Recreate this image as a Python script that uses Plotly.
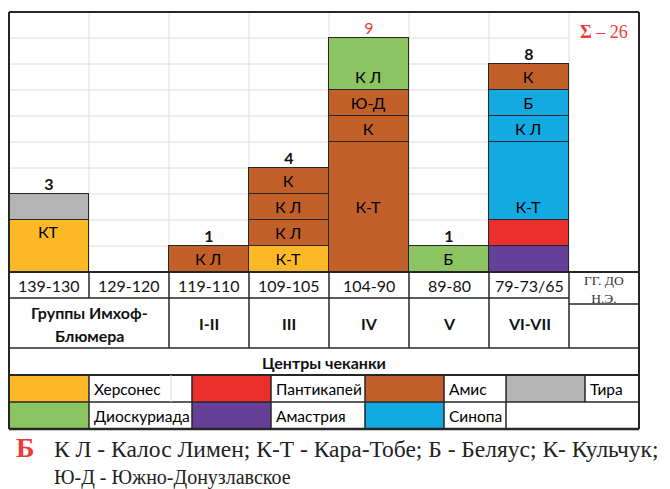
import plotly.graph_objects as go

# ---------------- data ----------------
periods = ["139-130", "129-120", "119-110", "109-105", "104-90", "89-80", "79-73/65"]
groups = ["I-II", "III", "IV", "V", "VI-VII"]          # for columns 3..7
group_title = ["Группы Имхоф-", "Блюмера"]
years_note = ["ГГ. ДО", "Н.Э."]

mints = ["Херсонес", "Пантикапей", "Амис", "Тира", "Диоскуриада", "Амастрия", "Синопа"]

# stacked segments, bottom -> top within each period
seg_period = ["139-130", "139-130",
              "119-110",
              "109-105", "109-105", "109-105", "109-105",
              "104-90", "104-90", "104-90", "104-90",
              "89-80",
              "79-73/65", "79-73/65", "79-73/65", "79-73/65", "79-73/65", "79-73/65"]
seg_mint = ["Херсонес", "Тира",
            "Амис",
            "Херсонес", "Амис", "Амис", "Амис",
            "Амис", "Амис", "Амис", "Диоскуриада",
            "Диоскуриада",
            "Амастрия", "Пантикапей", "Синопа", "Синопа", "Синопа", "Амис"]
seg_count = [2, 1,
             1,
             1, 1, 1, 1,
             5, 1, 1, 2,
             1,
             1, 1, 3, 1, 1, 1]
seg_label = ["КТ", "",
             "К Л",
             "К-Т", "К Л", "К Л", "К",
             "К-Т", "К", "Ю-Д", "К Л",
             "Б",
             "", "", "К-Т", "К Л", "Б", "К"]

abbrev_line1 = "К Л - Калос Лимен; К-Т - Кара-Тобе; Б - Беляус; К- Кульчук;"
abbrev_line2 = "Ю-Д - Южно-Донузлавское"
panel_letter = "Б"
centres_title = "Центры чеканки"

# ---------------- style ----------------
COLORS = {
    "Херсонес": "#FDB826",
    "Пантикапей": "#EA2F2D",
    "Амис": "#C2602A",
    "Тира": "#B4B4B4",
    "Диоскуриада": "#8CC462",
    "Амастрия": "#653F98",
    "Синопа": "#13A9E1",
}
DARK = "#262626"
GRID = "#dcdcdc"
RED = "#EE3A36"
SANS = "Lato"
SERIF = "Liberation Serif"
ANCHOR = {0: "end", 7: "middle", 10: "start", 14: "start"}

W, H = 670, 489
L, R, T, B = 9, 639, 12, 272          # plot box in pixels
COLW = 80.0
NCOL = len(periods)


def px(x):
    return (x - L) / (R - L)


def py(y):
    return (B - y) / (B - T)


def xc(period):
    return periods.index(period) + 0.5


fig = go.Figure()

# stacked bars, one trace per segment
for i, (p, m, c, lab) in enumerate(zip(seg_period, seg_mint, seg_count, seg_label)):
    fig.add_trace(go.Bar(
        x=[xc(p)], y=[c], width=[1.0],
        marker=dict(color=COLORS[m], line=dict(color=DARK, width=1.5)),
        text=[lab], textposition="inside", insidetextanchor=ANCHOR.get(i, "middle"),
        textangle=0, constraintext="none",
        textfont=dict(family=SANS, size=16, color="#000000"),
        hoverinfo="skip", showlegend=False,
    ))

# totals above bars
totals = {}
for p, c in zip(seg_period, seg_count):
    totals[p] = totals.get(p, 0) + c
tot_periods = [p for p in periods if p in totals]
tot_vals = [totals[p] for p in tot_periods]
max_tot = max(tot_vals)
fig.add_trace(go.Scatter(
    x=[xc(p) for p in tot_periods], y=tot_vals, mode="text",
    text=[(str(v) if v == max_tot else "<b>%d</b>" % v) for v in tot_vals],
    textposition="top center",
    textfont=dict(family=SANS, size=16,
                  color=[RED if v == max_tot else "#111111" for v in tot_vals]),
    hoverinfo="skip", showlegend=False, cliponaxis=False,
))

shapes = []
ann = []


def line(x0, y0, x1, y1, w=1.5, color=DARK, layer="above"):
    shapes.append(dict(type="line", xref="paper", yref="paper",
                       x0=px(x0), y0=py(y0), x1=px(x1), y1=py(y1),
                       line=dict(color=color, width=w), layer=layer))


def rect(x0, y0, x1, y1, fill):
    shapes.append(dict(type="rect", xref="paper", yref="paper",
                       x0=px(x0), y0=py(y0), x1=px(x1), y1=py(y1),
                       fillcolor=fill, line=dict(width=0), layer="below"))


def text(x, y, s, size=16, family=SANS, color="#111111", xanchor="center"):
    ann.append(dict(xref="paper", yref="paper", x=px(x), y=py(y), text=s,
                    showarrow=False, xanchor=xanchor, yanchor="middle",
                    font=dict(family=family, size=size, color=color)))


# light grid inside the chart (not in last column)
for k in range(1, 10):
    shapes.append(dict(type="line", xref="x", yref="y", x0=0, x1=NCOL, y0=k, y1=k,
                       line=dict(color=GRID, width=1), layer="below"))
for k in range(1, NCOL + 1):
    shapes.append(dict(type="line", xref="x", yref="paper", x0=k, x1=k, y0=0, y1=1,
                       line=dict(color=GRID, width=1), layer="below"))

# outer borders
line(L, T, R, T, 2)
line(L, T, L, 429, 2)
line(R, T, R, 429, 2)
line(L, B, R, B, 1.8)

# table rows
colx = [L + COLW * k for k in range(NCOL + 1)]  # 9 .. 569
line(L, 298, colx[-1], 298)
line(colx[-1], 304, R, 304)
line(L, 348, R, 348)
line(L, 375, R, 375, 2)
line(L, 402, R, 402)
line(L, 429, R, 429, 2.5)
for k in range(1, NCOL + 1):
    line(colx[k], B, colx[k], 298)
for k in range(2, NCOL + 1):
    line(colx[k], 298, colx[k], 348)

# period labels
for k, p in enumerate(periods):
    text((colx[k] + colx[k + 1]) / 2, 285, p, size=16)
text((colx[-1] + R) / 2, 289, "<br>".join(years_note), size=13.5, family=SERIF,
     color="#333333")

# group row
text((L + colx[2]) / 2, 312, "<b>%s</b>" % group_title[0], size=16)
text((L + colx[2]) / 2, 335, "<b>%s</b>" % group_title[1], size=16)
for k, g in enumerate(groups):
    c = k + 2
    text((colx[c] + colx[c + 1]) / 2, 323, "<b>%s</b>" % g, size=16)

# centres title
text((L + R) / 2, 362, "<b>%s</b>" % centres_title, size=16)

# legend table
sw_x = [(9, 89), (192, 271), (365, 444), (506, 585)]
txt_end = [192, 365, 506, R]
legend_rows = [mints[:4], mints[4:]]
for r, names in enumerate(legend_rows):
    y0, y1 = (375, 402) if r == 0 else (402, 429)
    for j, name in enumerate(names):
        a, b = sw_x[j]
        rect(a, y0, b, y1, COLORS[name])
        line(b, y0, b, y1)
        line(txt_end[j], y0, txt_end[j], y1)
        text(b + 3, (y0 + y1) / 2, name, size=15.5, xanchor="left", color="#000000")
line(171, 375, 171, 402, 1, GRID)

# sum label
text(604, 32, "<b>Σ</b> – %d" % sum(seg_count), size=18, family=SERIF, color=RED)

# caption under the table
text(25, 447, "<b>%s</b>" % panel_letter, size=28, family=SERIF, color=RED)
text(52, 449, abbrev_line1, size=23.5, family=SERIF, color="#222222", xanchor="left")
text(52, 478, abbrev_line2, size=20, family=SERIF, color="#222222", xanchor="left")

fig.update_layout(
    width=W, height=H,
    margin=dict(l=L, r=W - R, t=T, b=H - B, pad=0),
    paper_bgcolor="white", plot_bgcolor="white",
    barmode="stack", bargap=0,
    xaxis=dict(range=[0, (R - L) / COLW], visible=False, fixedrange=True),
    yaxis=dict(range=[0, (B - T) / 26.0], visible=False, fixedrange=True),
    shapes=shapes, annotations=ann,
    showlegend=False,
)

fig.write_html("out.html", config={"displayModeBar": False},
               post_script="document.body.style.margin='0';document.body.style.overflow='hidden';")
